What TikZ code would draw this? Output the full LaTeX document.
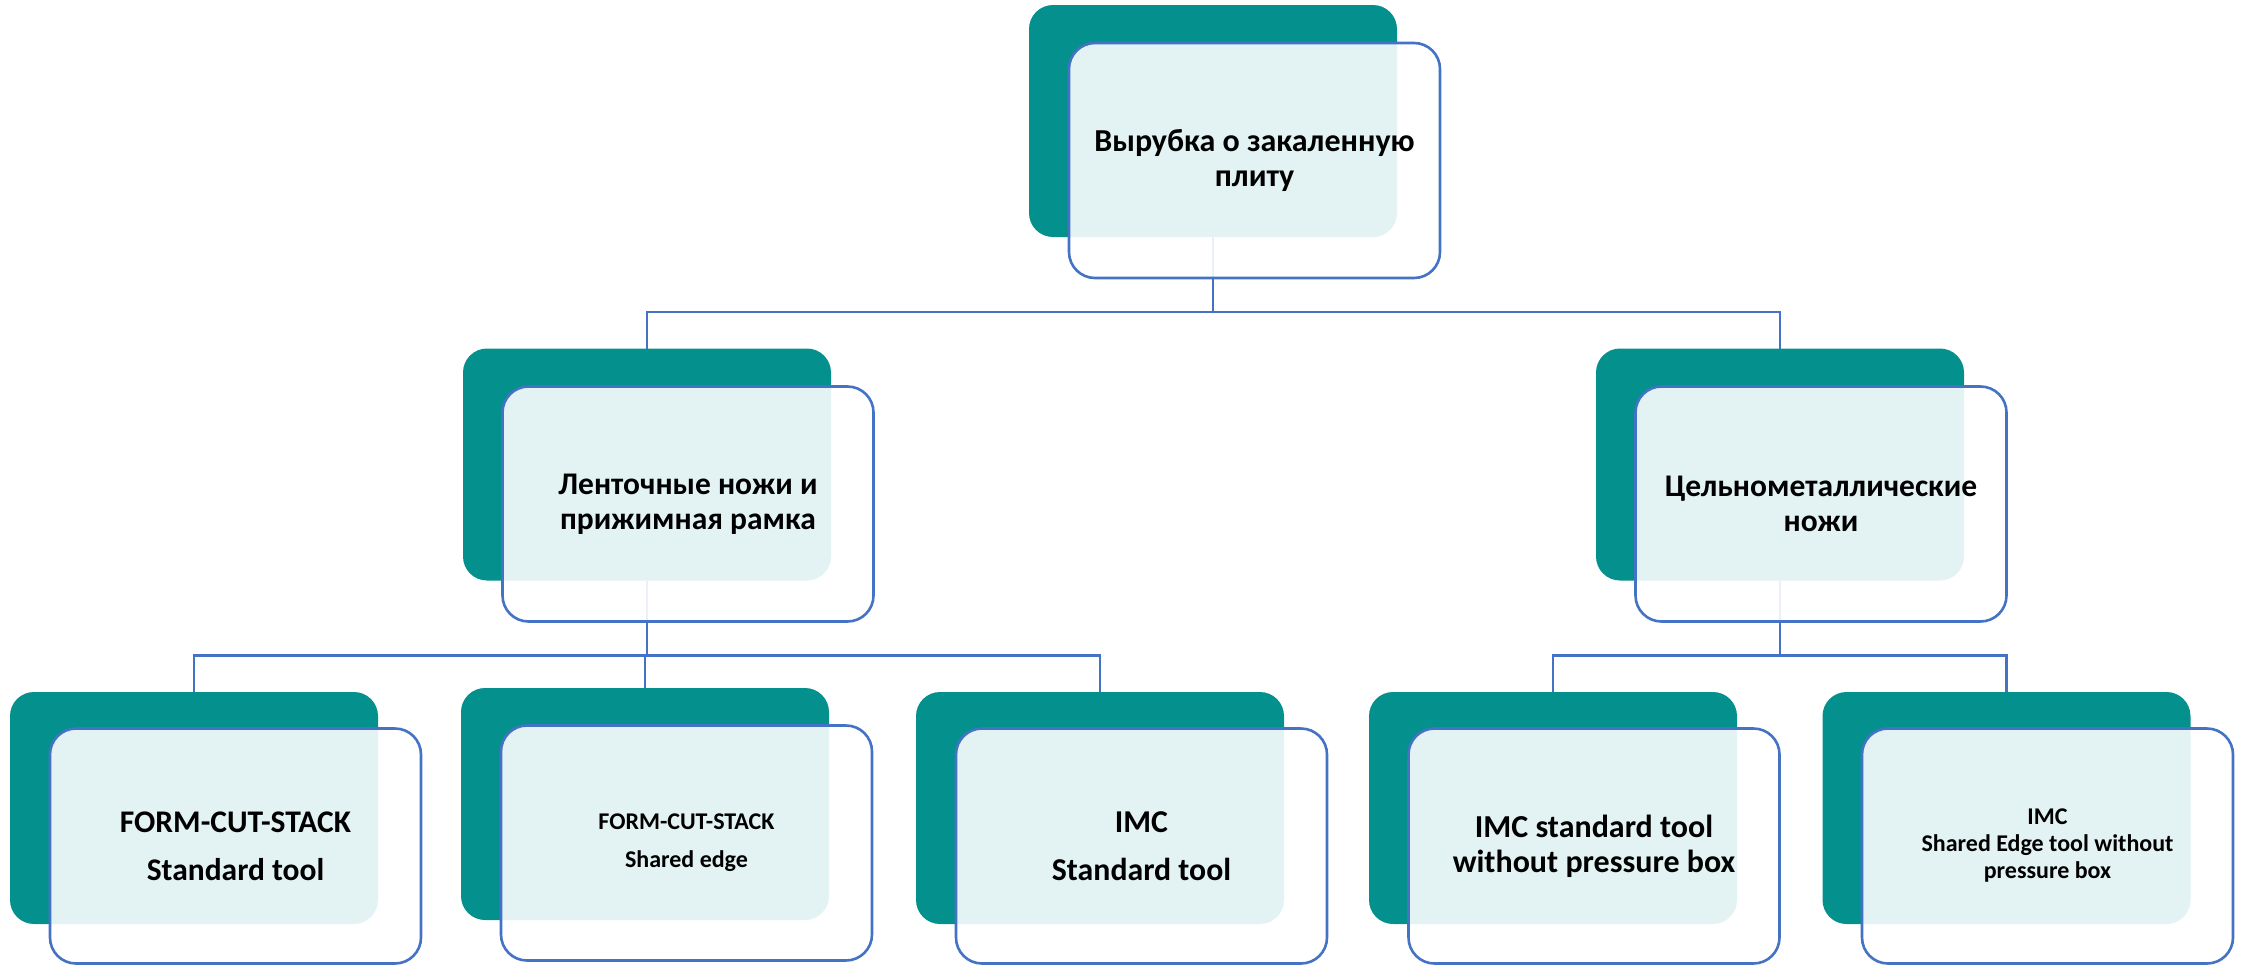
\documentclass[tikz,border=0pt]{standalone}
\usepackage{fontspec}
\setmainfont{Carlito}
\definecolor{tealc}{RGB}{4,145,142}
\definecolor{bluec}{RGB}{68,114,196}
\begin{document}
\begin{tikzpicture}[x=1pt,y=-1pt,
  back/.style={fill=tealc, draw=none, rounded corners=24pt, minimum width=368pt, minimum height=232pt, inner sep=0pt, outer sep=0pt},
  front/.style={fill=white, fill opacity=0.89, text opacity=1, draw=bluec, draw opacity=1, line width=2.6pt, rounded corners=26pt, minimum width=371pt, minimum height=235pt, inner sep=0pt, outer sep=0pt, align=center},
  conn/.style={draw=bluec, line width=2.6pt},
  fa/.style={font=\fontsize{32}{35}\selectfont\bfseries},
  fl/.style={font=\fontsize{31.5}{35}\selectfont\bfseries},
  fb/.style={font=\fontsize{31.5}{48}\selectfont\bfseries},
  fc/.style={font=\fontsize{24}{38}\selectfont\bfseries},
  fd/.style={font=\fontsize{31.8}{48}\selectfont\bfseries},
  ff/.style={font=\fontsize{32}{35}\selectfont\bfseries},
  fe/.style={font=\fontsize{24}{27}\selectfont\bfseries}]
\useasboundingbox (0,0) rectangle (2241,964);
% back (teal) boxes
\node[back] (t0) at (1213,121) {};
\node[back] (la) at (647,464.5) {};
\node[back] (ra) at (1780,464.5) {};
\node[back] (b1) at (194,808) {};
\node[back] (b2) at (645,804) {};
\node[back] (b3) at (1100,808) {};
\node[back] (b4) at (1553,808) {};
\node[back] (b5) at (2006.5,808) {};
% connectors
\draw[conn] (t0.south) -- ++(0,75) -| (la.north);
\draw[conn] (t0.south) -- ++(0,75) -| (ra.north);
\draw[conn] (la.south) -- ++(0,75) -| (b1.north);
\draw[conn] (la.south) -- ++(0,75) -| (b2.north);
\draw[conn] (la.south) -- ++(0,75) -| (b3.north);
\draw[conn] (ra.south) -- ++(0,75) -| (b4.north);
\draw[conn] (ra.south) -- ++(0,75) -| (b5.north);
% front boxes
\node[front,fa] (f0) at (1254.5,160.5) {Вырубка о закаленную\\плиту};
\node[front,fl] (fla) at (688,504) {Ленточные ножи и\\прижимная рамка};
\node[front,fl] (fra) at (1821,504) {Цельнометаллические\\ножи};
\node[front,fb] (f1) at (235.5,846) {FORM-CUT-STACK\\Standard tool};
\node[front,fc] (f2) at (686.5,843) {FORM-CUT-STACK\\Shared edge};
\node[front,fd] (f3) at (1141.5,846) {IMC\\Standard tool};
\node[front,ff] (f4) at (1594,846) {IMC standard tool\\without pressure box};
\node[front,fe] (f5) at (2047.5,846) {IMC\\Shared Edge tool without\\pressure box};
\end{tikzpicture}
\end{document}
